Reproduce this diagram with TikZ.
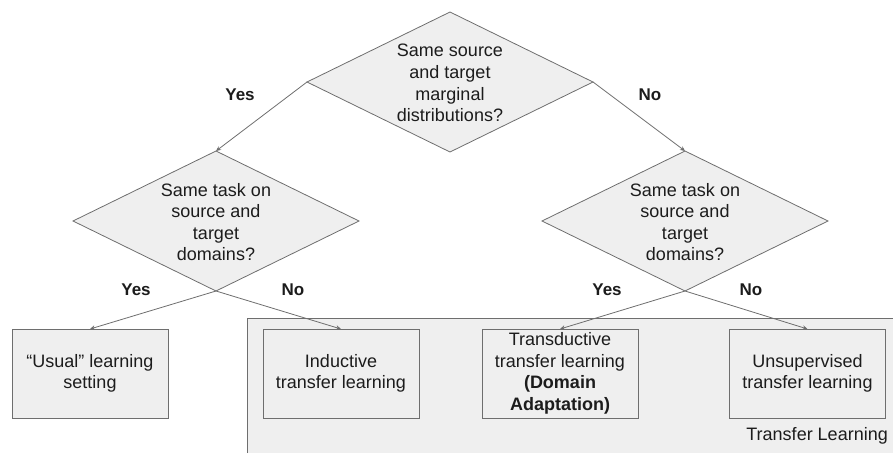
\documentclass[tikz,border=0pt]{standalone}
\usepackage{fontspec}
\setmainfont{Liberation Sans}
\usetikzlibrary{shapes.geometric,arrows.meta}
\definecolor{boxfill}{HTML}{EFEFEF}
\definecolor{edge}{HTML}{6E6E6E}
\definecolor{ink}{HTML}{1C1C1C}
\tikzset{
  txt/.style={font=\fontsize{18}{21.6}\selectfont, text=ink, align=center, inner sep=0pt},
  ans/.style={font=\fontsize{17}{20}\selectfont\bfseries, text=ink, inner sep=0pt},
  decision/.style={diamond, draw=edge, fill=boxfill, line width=0.8pt, inner sep=0pt, outer sep=0pt,
    minimum width=286pt, minimum height=140pt},
  outcome/.style={rectangle, draw=edge, fill=boxfill, line width=0.8pt, inner sep=0pt, outer sep=0pt,
    minimum width=156pt, minimum height=89pt, font=\fontsize{18}{21.6}\selectfont, text=ink, align=center},
  link/.style={draw=edge, line width=0.8pt, -{Stealth[length=5pt,width=4.5pt]}}
}
\begin{document}
\begin{tikzpicture}[x=1pt,y=-1pt]
\useasboundingbox (0,0) rectangle (893,453);

% shaded region grouping the transfer-learning outcomes
\fill[boxfill] (247,318) rectangle (893,453);
\draw[edge, line width=0.8pt] (247,453) |- (893,318);
\node[txt, anchor=east] (tlabel) at (888,436) {Transfer Learning};

% decisions
\node[decision] (d0) at (450,82) {};
\node[txt] (d0t) at (450,83) {Same source\\and target\\marginal\\distributions?};
\node[decision] (d1) at (216,221) {};
\node[txt] (d1t) at (216,222) {Same task on\\source and\\target\\domains?};
\node[decision] (d2) at (685,221) {};
\node[txt] (d2t) at (685,222) {Same task on\\source and\\target\\domains?};

% outcomes
\node[outcome] (usual) at (90,373.5) {``Usual'' learning\\setting};
\node[outcome] (induct) at (341,373.5) {Inductive\\transfer learning};
\node[outcome] (trans) at (560,373.5) {Transductive\\transfer learning\\\textbf{(Domain}\\\textbf{Adaptation)}};
\node[outcome] (unsup) at (807.5,373.5) {Unsupervised\\transfer learning};

% connectors
\draw[link] (d0.west) -- (d1.north);
\draw[link] (d0.east) -- (d2.north);
\draw[link] (d1.south) -- (usual.north);
\draw[link] (d1.south) -- (induct.north);
\draw[link] (d2.south) -- (trans.north);
\draw[link] (d2.south) -- (unsup.north);

% answers
\node[ans] (y0) at (240,95) {Yes};
\node[ans] (n0) at (650,95) {No};
\node[ans] (y1) at (136,290) {Yes};
\node[ans] (n1) at (293,290) {No};
\node[ans] (y2) at (607,290) {Yes};
\node[ans] (n2) at (751,290) {No};
\end{tikzpicture}
\end{document}
